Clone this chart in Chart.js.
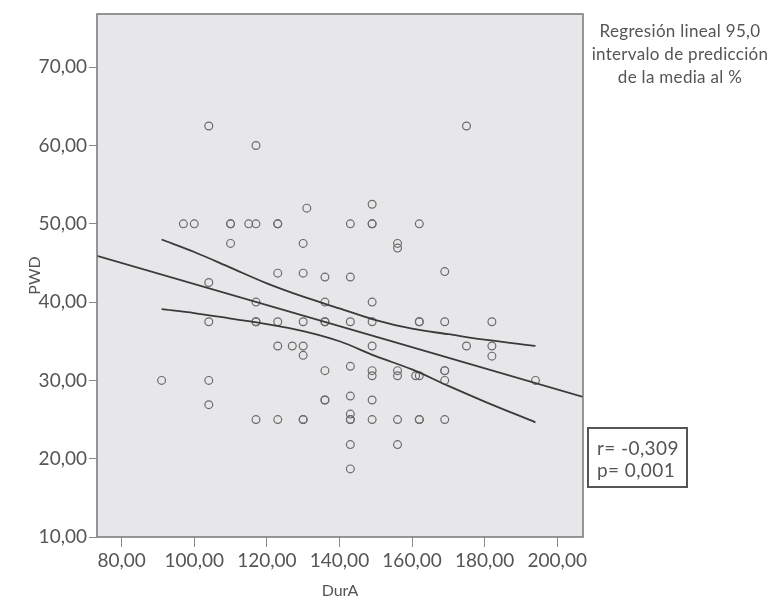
<!DOCTYPE html>
<html>
<head>
<meta charset="utf-8">
<script src="https://cdn.jsdelivr.net/npm/chart.js@4/dist/chart.umd.min.js"></script>
<style>
  body { margin: 0; background: #fff; }
  #wrap { position: relative; width: 773px; height: 600px; font-family: Lato, sans-serif; color: #555; overflow: hidden; }
  #note { position: absolute; left: 575px; top: 19px; width: 210px; text-align: center; font-size: 17px; line-height: 23px; white-space: nowrap; letter-spacing: 0.3px; }
  #stats { position: absolute; left: 587px; top: 427px; width: 101px; height: 61px; border: 2px solid #555; font-size: 19px; line-height: 22px; padding: 8px 0 0 8px; box-sizing: border-box; letter-spacing: 0.4px; }
</style>
</head>
<body>
<div id="wrap">
  <canvas id="chart" width="773" height="600"></canvas>
  <div id="note">Regresión lineal 95,0<br>intervalo de predicción<br>de la media al %</div>
  <div id="stats">r= -0,309<br>p= 0,001</div>
</div>
<script>
/* ===== DATA ===== */

const durA = [
  91, 97, 100, 104, 104, 104, 104, 104, 110, 110, 110, 115,
  117, 117, 117, 117, 117, 117, 123, 123, 123, 123, 123, 123, 127,
  130, 130, 130, 130, 130, 130, 130, 131,
  136, 136, 136, 136, 136, 136, 136,
  143, 143, 143, 143, 143, 143, 143, 143, 143, 143,
  149, 149, 149, 149, 149, 149, 149, 149, 149, 149,
  156, 156, 156, 156, 156, 156, 161,
  162, 162, 162, 162, 162, 162,
  169, 169, 169, 169, 169, 169, 175, 175, 182, 182, 182, 194
];

const pwd = [
  30, 50, 50, 62.5, 42.5, 37.5, 30, 26.9, 50, 50, 47.5, 50,
  60, 50, 40, 37.5, 37.5, 25, 50, 50, 43.7, 37.5, 34.4, 25, 34.4,
  47.5, 43.7, 37.5, 34.4, 33.2, 25, 25, 52,
  43.2, 40, 37.5, 37.5, 31.25, 27.5, 27.5,
  50, 43.2, 37.5, 31.8, 28, 25.7, 25, 25, 21.8, 18.7,
  52.5, 50, 50, 40, 37.5, 34.4, 31.25, 30.6, 27.5, 25,
  47.5, 46.9, 31.25, 30.6, 25, 21.8, 30.6,
  50, 37.5, 37.5, 30.6, 25, 25,
  43.9, 37.5, 31.25, 31.25, 30, 25, 62.5, 34.4, 37.5, 34.4, 33.1, 30
];

// fitted line, read at the plot edges
const fitX = [73.2, 207.1];
const fitY = [45.9, 27.9];

// 95% band for the mean
const bandX = [91, 100, 110, 120, 130, 140, 150, 160, 170, 180, 194];
const bandUpper = [48.0, 46.4, 44.4, 42.4, 40.7, 39.2, 37.7, 36.6, 35.9, 35.2, 34.4];
const bandLower = [39.1, 38.6, 37.9, 37.2, 36.3, 35.0, 33.1, 31.4, 29.3, 27.3, 24.65];

const xTicks = [80, 100, 120, 140, 160, 180, 200];
const yTicks = [10, 20, 30, 40, 50, 60, 70];

/* ===== HELPERS ===== */

function toPoints(xs, ys) {
  return xs.map((x, i) => ({ x, y: ys[i] }));
}

function fmt(v) {
  return Number(v).toFixed(2).replace(".", ",");
}

function lineSet(xs, ys) {
  return {
    type: "line",
    data: toPoints(xs, ys),
    borderColor: "#3a3a3a",
    borderWidth: 1.8,
    pointRadius: 0,
    cubicInterpolationMode: "monotone",
    fill: false
  };
}

const plotBox = {
  id: "plotBox",
  beforeDraw(chart) {
    const { ctx, chartArea: a } = chart;
    ctx.save();
    ctx.fillStyle = "#e7e7e9";
    ctx.fillRect(a.left, a.top, a.right - a.left, a.bottom - a.top);
    ctx.restore();
  },
  afterDraw(chart) {
    const { ctx, chartArea: a } = chart;
    ctx.save();
    ctx.strokeStyle = "#7d7d7d";
    ctx.lineWidth = 1.6;
    ctx.strokeRect(a.left, a.top, a.right - a.left, a.bottom - a.top);
    ctx.restore();
  }
};

/* ===== CHART ===== */

const tickFont = { family: "Lato", size: 19 };

new Chart(document.getElementById("chart"), {
  type: "scatter",
  data: {
    datasets: [
      lineSet(fitX, fitY),
      lineSet(bandX, bandUpper),
      lineSet(bandX, bandLower),
      {
        type: "scatter",
        data: toPoints(durA, pwd),
        pointStyle: "circle",
        pointRadius: 3.9,
        backgroundColor: "rgba(0,0,0,0)",
        borderColor: "#6b6b6b",
        borderWidth: 1.2
      }
    ]
  },
  options: {
    responsive: false,
    animation: false,
    layout: { padding: { left: 0, right: 190, top: 14, bottom: 0 } },
    plugins: { legend: { display: false }, tooltip: { enabled: false } },
    scales: {
      x: {
        type: "linear",
        min: 73.2,
        max: 207.1,
        afterBuildTicks: s => { s.ticks = xTicks.map(v => ({ value: v })); },
        afterFit: s => { s.height = 63; },
        grid: { drawOnChartArea: false, drawTicks: true, tickLength: 10, color: "#8a8a8a" },
        border: { display: false },
        ticks: { font: tickFont, color: "#555", padding: 2, maxRotation: 0, callback: v => fmt(v) },
        title: { display: true, text: "DurA", font: { family: "Lato", size: 16 }, color: "#555", padding: { top: 0, bottom: 0 } }
      },
      y: {
        type: "linear",
        min: 10,
        max: 76.8,
        afterBuildTicks: s => { s.ticks = yTicks.map(v => ({ value: v })); },
        afterFit: s => { s.width = 97; },
        grid: { drawOnChartArea: false, drawTicks: true, tickLength: 8, color: "#8a8a8a" },
        border: { display: false },
        ticks: { font: tickFont, color: "#555", padding: 2, callback: v => fmt(v) },
        title: { display: true, text: "PWD", font: { family: "Lato", size: 16 }, color: "#555", padding: { top: 25, bottom: 0 } }
      }
    }
  },
  plugins: [plotBox]
});
</script>
</body>
</html>
